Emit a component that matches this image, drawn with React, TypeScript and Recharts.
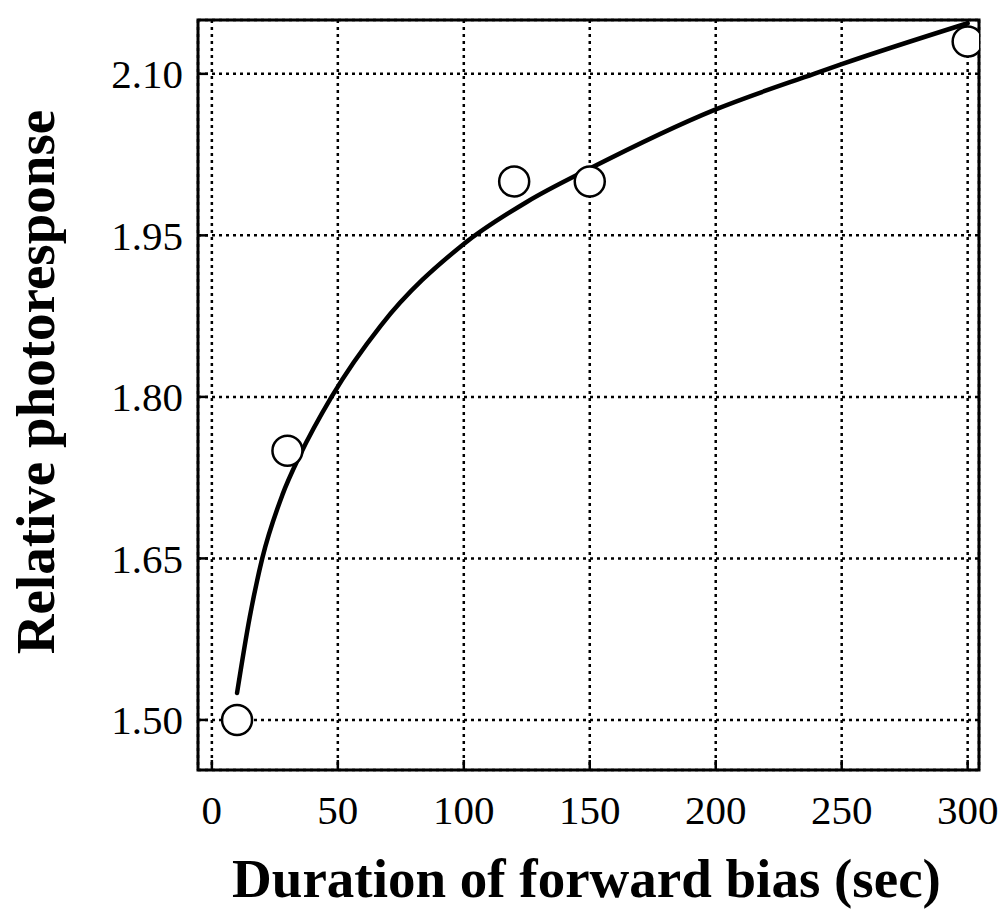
import {
  ComposedChart,
  Scatter,
  Line,
  XAxis,
  YAxis,
  CartesianGrid,
  ReferenceArea,
} from "recharts";

// measured points (open circles)
const measured = [
  { x: 10, y: 1.5 },
  { x: 30, y: 1.75 },
  { x: 120, y: 2.0 },
  { x: 150, y: 2.0 },
  { x: 300, y: 2.13 },
];

// fitted curve
const fitCurve = [
  { x: 10, y: 1.525 },
  { x: 15, y: 1.595 },
  { x: 20, y: 1.65 },
  { x: 28, y: 1.709 },
  { x: 35, y: 1.746 },
  { x: 47.5, y: 1.8 },
  { x: 67, y: 1.866 },
  { x: 100, y: 1.942 },
  { x: 125, y: 1.981 },
  { x: 150, y: 2.012 },
  { x: 200, y: 2.067 },
  { x: 239, y: 2.1 },
  { x: 250, y: 2.109 },
  { x: 300, y: 2.147 },
];

const xTicks = [0, 50, 100, 150, 200, 250, 300];
const yTicks = [1.5, 1.65, 1.8, 1.95, 2.1];

const X_DOMAIN: [number, number] = [-5.5, 304.5];
const Y_DOMAIN: [number, number] = [1.4535, 2.15];

const FONT = "'Liberation Serif', 'Times New Roman', serif";
const tickStyle = { fontFamily: FONT, fontSize: 41, fill: "#000" };
const tickLn = { stroke: "#000", strokeWidth: 2.5 };

const OpenCircle = (props: any) => (
  <circle cx={props.cx} cy={props.cy} r={15} fill="#fff" stroke="#000" strokeWidth={2.5} />
);

export default function App() {
  return (
    <div style={{ position: "absolute", left: 0, top: 0, background: "#fff" }}>
      <ComposedChart
        width={1003}
        height={909}
        margin={{ top: 20, right: 24, left: 0, bottom: 0 }}
      >
        <CartesianGrid stroke="#000" strokeWidth={2.5} strokeDasharray="3 4" />
        <XAxis
          dataKey="x"
          type="number"
          domain={X_DOMAIN}
          ticks={xTicks}
          allowDataOverflow
          height={139}
          axisLine={false}
          tickLine={tickLn}
          tickSize={-10}
          tickMargin={35}
          tick={tickStyle}
          fontSize={41}
          fontFamily={FONT}
          label={{
            content: ({ viewBox }: any) => (
              <text
                x={viewBox.x + viewBox.width / 2 - 2}
                y={viewBox.y + 127}
                textAnchor="middle"
                fontFamily={FONT}
                fontWeight="bold"
                fontSize={55}
                fill="#000"
              >
                Duration of forward bias (sec)
              </text>
            ),
          }}
        />
        <XAxis
          xAxisId="top"
          orientation="top"
          type="number"
          domain={X_DOMAIN}
          ticks={xTicks}
          allowDataOverflow
          height={0}
          axisLine={false}
          tickLine={tickLn}
          tickSize={-10}
          tick={false}
        />
        <YAxis
          type="number"
          domain={Y_DOMAIN}
          ticks={yTicks}
          allowDataOverflow
          width={198}
          axisLine={false}
          tickLine={tickLn}
          tickSize={-10}
          tickMargin={25}
          tick={tickStyle}
          fontSize={41}
          fontFamily={FONT}
          tickFormatter={(v: number) => v.toFixed(2)}
          label={{
            content: ({ viewBox }: any) => {
              const cx = 54;
              const cy = viewBox.y + viewBox.height / 2 - 13;
              return (
                <text
                  x={cx}
                  y={cy}
                  transform={`rotate(-90 ${cx} ${cy})`}
                  textAnchor="middle"
                  fontFamily={FONT}
                  fontWeight="bold"
                  fontSize={55}
                  fill="#000"
                >
                  Relative photoresponse
                </text>
              );
            },
          }}
        />
        <YAxis
          yAxisId="right"
          orientation="right"
          type="number"
          domain={Y_DOMAIN}
          ticks={yTicks}
          allowDataOverflow
          width={0}
          axisLine={false}
          tickLine={tickLn}
          tickSize={-10}
          tick={false}
        />
        <ReferenceArea
          x1={X_DOMAIN[0]}
          x2={X_DOMAIN[1]}
          y1={Y_DOMAIN[0]}
          y2={Y_DOMAIN[1]}
          fill="none"
          fillOpacity={0}
          stroke="#000"
          strokeWidth={3}
          ifOverflow="visible"
        />
        <Scatter
          data={measured}
          dataKey="y"
          shape={OpenCircle}
          isAnimationActive={false}
        />
        <Line
          data={fitCurve}
          dataKey="y"
          type="monotone"
          stroke="#000"
          strokeWidth={4.5}
          strokeLinecap="round"
          dot={false}
          activeDot={false}
          isAnimationActive={false}
        />
      </ComposedChart>
    </div>
  );
}
